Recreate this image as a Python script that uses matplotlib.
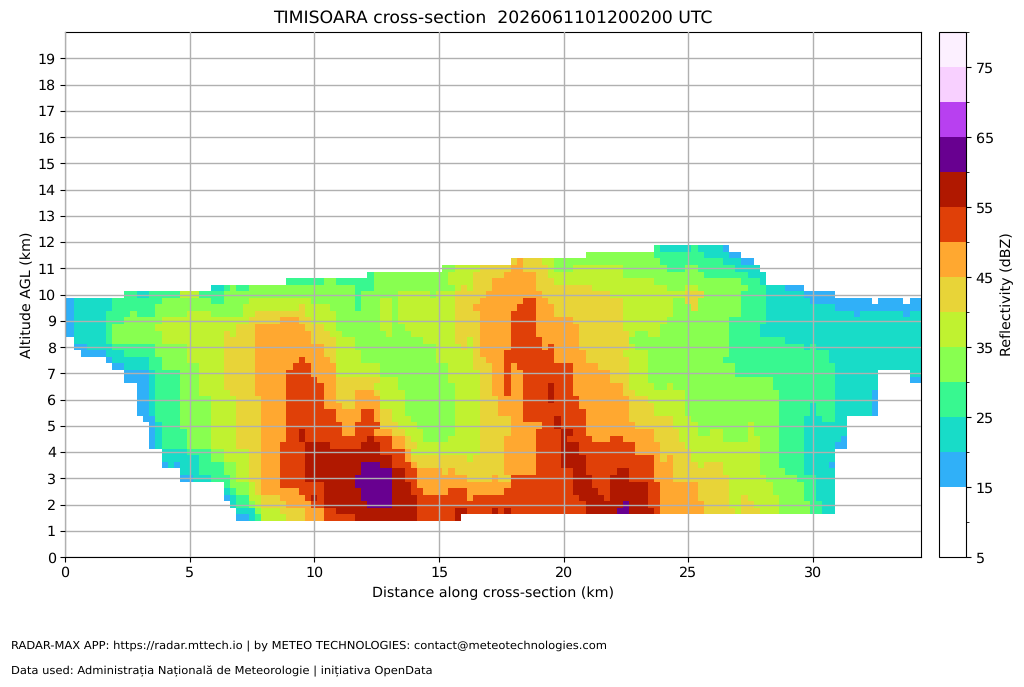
import numpy as np
import matplotlib
matplotlib.use("Agg")
import matplotlib.pyplot as plt
from matplotlib.colors import ListedColormap, BoundaryNorm
from matplotlib.cm import ScalarMappable

plt.rcParams["text.hinting"] = "no_hinting"
plt.rcParams["text.hinting_factor"] = 8

TITLE = "TIMISOARA cross-section  2026061101200200 UTC"
FOOT1 = "RADAR-MAX APP: https://radar.mttech.io | by METEO TECHNOLOGIES: contact@meteotechnologies.com"
FOOT2 = "Data used: Administrația Națională de Meteorologie | inițiativa OpenData"

LEVELS = [5, 10, 15, 20, 25, 30, 35, 40, 45, 50, 55, 60, 65, 70, 75, 80]
COLORS = ["#ffffff", "#ffffff", "#30b0f8", "#18dcc8", "#38f890", "#88ff50", "#c0f230", "#e8d438",
          "#ffa830", "#e04008", "#b01800", "#680090", "#b840f0", "#f8d0ff", "#fcf0ff"]

ALT = [1.5 + 0.25 * i for i in range(42)]
DIST = [0.25 * i for i in range(138)]
END = 34.4

# each altitude row: start distance (km), dBZ class, ... ; class 0 = no echo
r150 = [6.875,17,7.375,22,7.625,27,7.875,37,8.875,42,9.625,47,10.375,52,11.625,57,14.125,52,15.625,57,15.875,0]
r175 = [6.875,22,7.625,32,7.875,37,8.625,42,9.625,47,10.375,52,10.875,57,14.125,52,15.625,57,16.125,52,17.125,57,17.375,52,17.625,57,17.875,52,20.875,57,22.125,62,22.625,57,23.625,52,23.875,47,25.625,42,26.875,37,27.125,42,27.875,37,28.625,32,29.875,27,30.375,22,30.875,0]
r200 = [6.625,22,6.875,27,7.375,32,7.625,37,7.875,42,8.875,47,9.875,52,10.375,57,12.125,62,13.125,57,14.125,52,20.875,57,22.375,62,22.625,57,23.375,52,23.875,47,25.625,42,26.625,37,27.125,42,27.625,37,28.625,32,29.875,27,30.375,22,30.875,0]
r225 = [6.375,17,6.625,22,6.875,27,7.375,37,7.875,42,8.625,47,9.625,52,9.875,57,10.125,52,10.375,57,11.875,62,13.125,57,14.125,52,16.125,47,16.375,52,20.625,57,21.625,52,21.875,57,23.375,52,23.875,47,25.375,42,26.625,37,27.125,42,27.375,37,28.625,32,29.625,27,30.125,22,30.875,0]
r250 = [6.375,22,6.625,27,6.875,32,7.375,37,7.625,42,7.875,47,9.375,52,10.375,57,11.875,62,13.125,57,13.875,52,14.375,47,15.375,52,16.125,47,17.625,52,20.375,57,21.375,52,21.875,57,23.375,52,23.875,47,25.375,42,26.625,37,28.375,32,29.625,27,30.125,22,30.875,0]
r275 = [6.375,27,6.625,32,7.375,37,7.625,42,7.875,47,8.625,52,10.375,57,11.625,62,13.125,57,13.875,52,14.125,47,17.875,52,20.375,57,21.125,52,21.875,57,23.375,52,23.875,47,25.375,42,26.625,37,28.375,32,29.625,27,30.125,22,30.875,0]
r300 = [4.625,17,5.125,22,5.875,27,6.625,32,6.875,37,7.375,42,7.875,47,8.625,52,9.625,57,11.625,62,13.125,57,13.625,52,14.125,47,16.125,42,17.125,47,17.375,42,17.875,52,20.375,57,21.125,52,21.875,57,22.625,52,23.625,47,24.375,42,26.625,37,28.125,32,29.375,27,30.125,22,30.875,0]
r325 = [4.625,22,5.375,27,6.375,32,6.875,37,7.375,42,7.875,47,8.625,52,9.625,57,11.875,62,13.125,57,13.625,52,14.125,47,15.125,42,15.375,47,15.625,42,17.625,47,18.875,52,20.375,57,20.875,52,22.125,57,22.625,52,23.625,47,24.375,42,26.375,37,27.875,32,28.875,27,29.625,22,30.875,0]
r350 = [3.875,17,4.125,22,4.375,17,4.625,22,5.375,27,6.375,32,6.875,37,7.375,42,7.875,47,8.625,52,9.625,57,11.875,62,12.625,57,13.125,52,13.875,47,14.125,42,17.625,47,18.875,52,19.875,57,20.875,52,23.625,47,24.375,42,25.375,37,25.625,42,26.375,37,27.875,32,28.625,27,29.625,22,30.625,17,30.875,0]
r375 = [3.875,22,5.375,27,5.875,32,6.375,37,7.375,42,7.875,47,8.625,52,9.625,57,13.125,52,13.625,47,13.875,42,16.125,37,16.375,42,17.625,47,18.875,52,19.875,57,20.875,52,23.625,47,23.875,42,24.125,47,24.375,42,25.125,37,27.875,32,28.625,27,29.625,22,30.875,0]
r400 = [3.875,22,4.875,27,5.875,32,6.375,37,7.375,42,7.875,47,8.625,52,9.625,57,12.625,52,13.625,47,13.875,37,16.625,42,17.625,47,18.875,52,19.875,57,20.625,52,22.875,47,23.875,42,25.125,37,27.875,32,28.625,27,29.625,22,30.875,0]
r425 = [3.375,17,3.625,22,3.875,27,4.875,32,5.875,37,6.875,42,7.875,47,8.625,52,9.625,57,10.625,52,11.875,57,12.625,52,13.125,47,13.625,42,14.125,37,16.625,42,17.625,47,18.875,52,19.875,57,20.625,52,22.875,47,23.875,42,24.875,37,27.875,32,28.625,27,29.625,22,30.875,17,31.375,0]
r450 = [3.375,17,3.625,22,3.875,27,4.875,32,5.875,37,6.875,42,7.875,47,8.875,52,9.375,57,9.625,52,12.125,57,12.375,52,13.125,47,13.625,42,13.875,37,14.375,32,15.375,37,16.625,42,17.625,47,18.875,52,19.875,57,20.125,52,21.125,47,21.875,52,22.375,47,23.625,42,24.625,37,26.375,32,27.375,37,27.875,32,28.625,27,29.625,22,31.125,17,31.375,0]
r475 = [3.375,17,3.625,22,3.875,27,4.875,32,5.875,37,6.875,42,7.875,47,8.875,52,9.375,57,9.625,52,11.125,47,11.625,52,12.375,47,13.125,42,13.625,37,14.375,32,15.625,37,16.625,42,17.875,47,18.875,52,19.875,57,20.375,52,20.875,47,23.625,42,24.625,37,25.375,32,25.875,37,26.375,32,27.375,37,27.625,32,28.625,27,29.625,22,31.375,0]
r500 = [3.375,17,3.625,22,3.875,27,4.625,32,5.875,37,6.875,42,7.875,47,8.875,52,11.125,47,11.625,52,12.625,42,13.375,37,14.125,32,15.625,37,16.625,42,17.875,47,19.125,52,19.625,57,19.875,52,20.875,47,22.875,42,24.375,37,25.375,32,27.375,37,27.625,32,28.625,27,29.625,22,31.375,0]
r525 = [3.125,17,3.625,27,4.625,32,5.875,37,6.875,42,7.875,47,8.875,52,10.875,47,11.875,52,12.375,47,12.625,42,13.125,37,13.875,32,15.625,37,16.625,42,17.875,47,18.375,52,19.625,57,19.875,52,20.875,47,22.625,42,24.375,37,25.125,32,28.625,27,29.625,22,30.375,27,30.875,22,31.375,0]
r550 = [2.875,17,3.375,22,3.625,27,4.625,32,5.875,37,6.875,42,7.875,47,8.875,52,10.875,47,11.875,52,12.375,47,12.625,42,13.125,37,13.625,32,15.625,37,16.625,42,17.375,47,18.375,52,20.875,47,22.625,42,23.625,37,24.875,32,28.625,27,29.875,22,30.125,27,30.875,22,32.375,17,32.625,0]
r575 = [2.875,17,3.375,22,3.625,27,4.625,32,5.875,37,6.875,42,7.875,47,8.875,52,10.375,47,11.125,42,11.625,47,12.625,37,13.625,32,15.625,37,16.625,42,17.375,47,18.375,52,20.625,47,22.625,42,23.625,37,24.875,32,28.625,27,29.875,22,30.125,27,30.875,22,32.375,17,32.625,0]
r600 = [2.875,17,3.375,22,3.625,27,4.625,32,5.875,37,6.875,42,7.875,47,8.875,52,10.375,47,10.875,42,11.625,47,12.625,37,13.625,32,15.625,37,16.625,42,17.375,47,18.375,52,19.375,57,19.625,52,20.625,47,22.625,42,23.375,37,24.875,32,28.625,27,30.875,22,32.375,17,32.625,0]
r625 = [2.875,17,3.375,22,3.625,27,4.625,32,5.375,37,6.625,42,7.625,47,8.875,52,10.375,47,10.875,42,11.625,47,12.375,42,12.625,37,13.625,32,15.625,37,16.625,42,17.125,47,17.625,52,17.875,47,18.375,52,19.375,57,19.625,52,20.375,47,22.375,42,22.875,37,24.875,32,28.625,27,30.875,22,32.375,17,32.625,0]
r650 = [2.875,17,3.375,22,3.625,27,4.625,32,5.375,37,6.375,42,7.625,47,8.875,52,10.375,47,10.875,42,12.375,37,13.375,32,15.625,37,16.625,42,17.125,47,17.625,52,17.875,47,18.375,52,19.375,57,19.625,52,20.375,47,22.375,42,22.625,37,23.625,32,24.125,37,24.375,32,28.375,27,30.875,22,32.625,0]
r675 = [2.375,17,3.375,22,3.625,27,4.625,32,5.375,37,6.375,42,7.625,47,8.875,52,10.125,47,10.875,42,12.625,37,13.375,32,15.375,37,16.625,42,17.125,47,17.625,52,17.875,47,18.375,52,20.375,47,21.875,42,22.625,37,23.375,32,28.375,27,30.875,22,32.625,0,33.875,17,END,0]
r700 = [2.375,17,3.375,22,3.625,27,4.625,32,5.375,37,6.375,42,7.625,47,8.875,52,9.875,47,10.875,37,12.625,32,15.375,37,16.625,42,17.125,47,17.625,52,17.875,47,18.375,52,20.375,47,21.875,42,22.625,37,23.375,32,26.875,27,30.875,22,32.625,0,33.875,22,END,0]
r725 = [1.875,17,2.375,22,3.375,27,3.875,32,5.375,37,6.375,42,7.625,47,9.125,52,9.875,47,10.875,37,12.625,32,15.375,37,16.375,42,17.125,47,17.625,52,17.875,47,18.125,52,20.375,47,21.375,42,22.625,37,23.375,32,26.875,27,30.875,22,END,0]
r750 = [1.625,17,1.875,22,3.375,27,3.875,32,4.875,37,6.375,42,7.625,47,9.375,52,9.625,47,10.625,42,10.875,37,11.875,32,14.875,37,16.375,42,16.875,47,17.625,52,19.625,47,20.875,42,22.625,37,23.375,32,26.375,27,30.625,22,END,0]
r775 = [0.625,17,1.625,22,2.375,27,3.625,32,4.875,37,6.375,42,7.625,47,10.375,42,10.875,37,11.875,32,14.875,37,16.375,42,16.625,47,17.625,52,19.625,47,20.875,42,22.375,37,23.375,32,26.625,27,30.625,22,END,0]
r800 = [0.375,17,0.875,22,1.875,27,3.625,32,4.875,37,6.375,42,7.625,47,10.375,42,10.875,37,11.625,32,14.875,37,15.875,42,16.125,37,16.375,42,16.625,47,17.875,52,19.125,47,19.375,52,19.625,47,20.625,42,22.625,37,22.875,32,26.625,27,29.625,22,29.875,27,30.125,22,END,0]
r825 = [0.375,22,1.625,27,1.875,32,3.875,37,6.375,42,7.625,47,9.875,42,10.875,37,11.625,32,14.375,37,15.625,42,16.125,37,16.375,42,16.625,47,17.875,52,19.125,47,20.625,42,22.625,32,26.625,27,28.875,22,END,0]
r850 = [0,17,0.375,22,1.625,27,1.875,32,3.875,37,6.375,42,6.625,37,6.875,42,7.625,47,9.875,42,10.625,37,11.125,32,12.875,37,13.125,32,13.875,37,15.625,42,16.625,47,17.875,52,18.875,47,20.625,42,22.625,37,22.875,32,23.375,37,23.875,32,26.625,27,27.875,22,END,0]
r875 = [0,17,0.375,22,1.625,27,1.875,32,3.625,37,6.875,42,7.625,47,9.625,42,10.375,37,10.875,32,12.625,37,13.125,32,13.625,37,15.625,42,16.625,47,17.875,52,18.875,47,20.625,42,22.375,37,23.875,32,26.625,27,27.875,22,END,0]
r900 = [0,17,0.375,22,1.625,27,2.375,32,3.875,37,7.375,42,8.625,47,9.375,42,9.875,37,10.875,32,12.625,37,13.125,32,13.375,37,15.625,42,16.625,47,17.875,52,18.875,47,20.375,42,22.375,37,24.125,32,26.625,27,28.125,22,END,0]
r925 = [0,17,0.375,22,1.625,27,2.625,32,2.875,27,3.625,32,4.875,37,5.875,32,7.125,37,7.625,42,9.625,37,10.875,32,12.625,37,13.125,32,13.375,37,15.625,42,16.625,47,17.875,52,18.875,47,19.625,42,22.375,37,24.375,32,27.125,27,28.125,22,31.625,17,31.875,22,33.625,17,33.875,22,END,0]
r950 = [0,17,0.375,22,1.875,27,3.625,32,7.125,37,9.375,42,9.625,37,10.625,32,11.625,27,11.875,32,12.625,37,13.125,32,13.375,37,15.625,42,16.375,47,18.125,52,18.875,47,19.625,42,22.375,37,24.375,32,25.125,42,25.375,32,27.125,27,28.125,22,30.875,17,END,0]
r975 = [0,17,0.375,22,1.875,27,3.875,32,5.875,27,6.375,32,7.375,37,9.875,32,11.625,27,11.875,32,12.625,37,13.125,32,13.375,37,15.625,42,16.625,47,18.375,52,18.875,47,19.375,42,22.375,37,24.375,32,24.875,42,25.375,32,27.125,27,28.125,22,29.875,17,32.375,0,32.625,17,33.625,0,33.875,17,END,0]
r1000 = [2.375,27,2.875,22,3.375,27,4.625,37,5.375,27,6.375,32,11.625,27,11.875,32,13.375,37,14.625,32,14.875,37,15.625,42,16.875,47,19.125,42,21.875,37,24.875,42,25.625,32,27.125,27,28.125,22,29.625,17,30.875,0]
r1025 = [5.875,22,6.375,27,6.625,32,6.875,27,7.375,32,11.625,27,12.375,32,15.625,37,15.875,42,16.125,37,16.375,42,17.125,47,18.875,42,21.125,37,24.125,32,24.875,37,25.375,32,27.375,27,28.125,22,28.875,17,29.625,0]
r1050 = [8.875,27,10.375,32,10.875,27,12.375,32,15.375,37,16.375,42,17.125,47,18.875,42,19.625,37,23.625,32,27.125,27,27.875,22,28.125,0]
r1075 = [12.125,27,12.375,32,15.375,37,16.375,42,17.625,47,18.875,42,19.375,37,22.375,32,25.625,27,27.375,22,28.125,0]
r1100 = [15.125,32,15.625,37,16.625,42,17.875,47,18.375,42,19.375,37,19.625,32,20.375,37,22.375,32,24.125,27,24.875,32,25.375,27,26.875,22,27.875,0]
r1125 = [17.875,42,18.125,47,18.375,42,19.125,37,19.625,32,23.875,27,26.375,22,27.125,17,27.625,0]
r1150 = [20.875,32,23.625,27,25.625,22,26.625,17,27.125,0]
r1175 = [23.625,27,23.875,22,25.125,27,25.375,22,26.375,17,26.625,0]

ROWS = [r150, r175, r200, r225, r250, r275, r300, r325, r350, r375, r400, r425, r450, r475,
        r500, r525, r550, r575, r600, r625, r650, r675, r700, r725, r750, r775, r800, r825,
        r850, r875, r900, r925, r950, r975, r1000, r1025, r1050, r1075, r1100, r1125, r1150, r1175]


def expand(row):
    """Turn one row of (start, class) runs into a value per distance bin."""
    starts = np.array(row[0::2], float)
    vals = np.array(row[1::2], float)
    idx = np.searchsorted(starts, np.array(DIST), side="right") - 1
    out = np.where(idx >= 0, vals[np.clip(idx, 0, None)], 0.0)
    out[out == 0] = np.nan
    return out


field = np.ma.masked_invalid(np.array([expand(r) for r in ROWS]))

W, H = 1024, 687
fig = plt.figure(figsize=(W / 100, H / 100), dpi=100)
ax = fig.add_axes([65 / W, 1 - 557 / H, (921 - 65) / W, (557 - 32) / H])
cax = fig.add_axes([939 / W, 1 - 557 / H, (966 - 939) / W, (557 - 32) / H])

cmap = ListedColormap(COLORS)
norm = BoundaryNorm(LEVELS, cmap.N)
ax.pcolormesh(DIST, ALT, field, cmap=cmap, norm=norm, shading="nearest")

ax.set_xlim(0, 34.33)
ax.set_ylim(0, 20)
ax.set_xticks(range(0, 31, 5))
ax.set_yticks(range(0, 20))
ax.tick_params(labelsize=10.3, length=3.5, pad=3)
ax.grid(True, color="#b0b0b0", linewidth=1.0)
ax.set_axisbelow(False)
ax.set_xlabel("Distance along cross-section (km)", fontsize=10.3, labelpad=5)
ax.set_ylabel("Altitude AGL (km)", fontsize=10.3, labelpad=3)
ax.set_title(TITLE, fontsize=12.4, pad=6)

sm = ScalarMappable(norm=norm, cmap=cmap)
cb = fig.colorbar(sm, cax=cax, ticks=LEVELS[0::2], drawedges=False)
cb.ax.set_yticks(LEVELS[1::2], minor=True)
cb.ax.tick_params(labelsize=10.3)
cb.set_label("Reflectivity (dBZ)", fontsize=10.3, labelpad=5)

fig.text(11 / W, 1 - 646 / H, FOOT1, fontsize=8.24, va="center")
fig.text(11 / W, 1 - 671 / H, FOOT2, fontsize=8.24, va="center")
fig.savefig("out.png", dpi=100)
